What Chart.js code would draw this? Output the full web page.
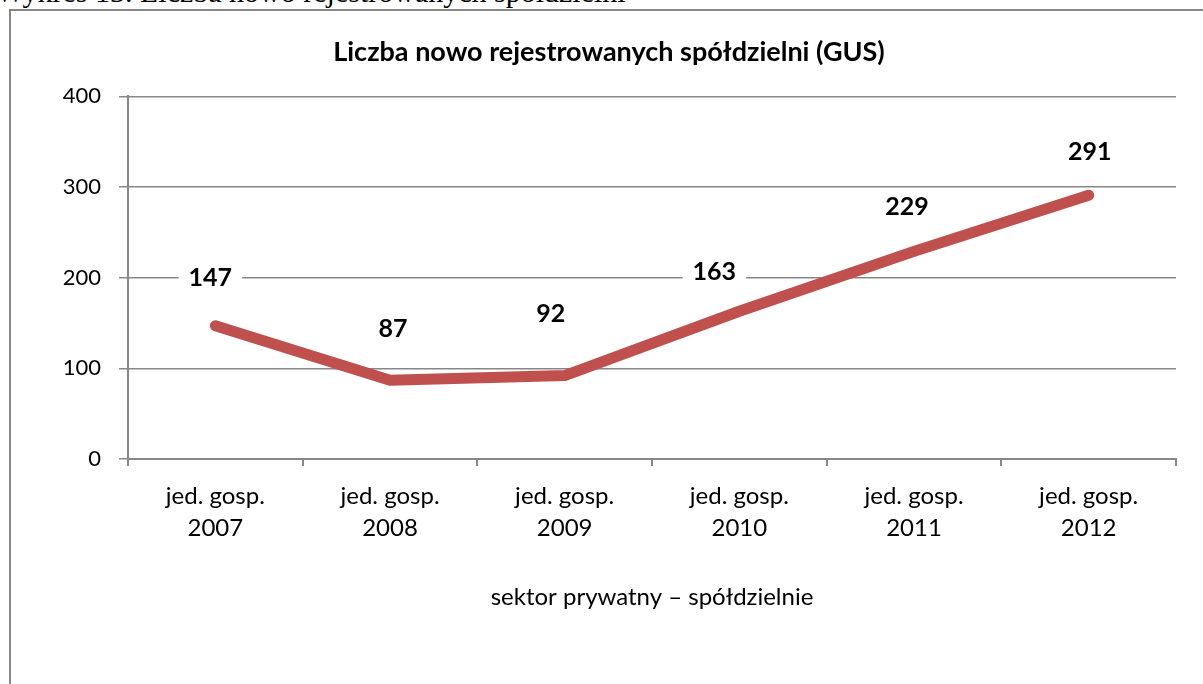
<!DOCTYPE html>
<html lang="pl">
<head>
<meta charset="utf-8">
<title>Liczba nowo rejestrowanych spółdzielni (GUS)</title>
<script src="https://cdn.jsdelivr.net/npm/chart.js@4/dist/chart.umd.min.js"></script>
<style>
	html, body { margin: 0; padding: 0; background: #fff; overflow: hidden; }
	#caption {
		position: absolute; left: -4px; top: -25px;
		font-family: "Liberation Serif", "DejaVu Serif", serif;
		font-size: 30px; color: #000; white-space: nowrap;
	}
	#frame {
		position: absolute; left: 9px; top: 9px; width: 1300px; height: 800px;
		border-left: 2px solid #878787; border-top: 2px solid #878787;
	}
	#wrap { position: absolute; left: 0; top: 0; width: 1203px; height: 684px; }
</style>
</head>
<body>
<div id="caption">Wykres 13. Liczba nowo rejestrowanych spółdzielni</div>
<div id="frame"></div>
<div id="wrap"><canvas id="myChart" width="1203" height="684"></canvas></div>
<script>
const years = ["2007", "2008", "2009", "2010", "2011", "2012"];
const categories = years.map((y) => ["jed. gosp.", y]);
const values = [147, 87, 92, 163, 229, 291];
const yTicks = [0, 100, 200, 300, 400];

// label offsets from their points (hand-placed in the original)
const labelShift = [
	[-5, -48],
	[3, -51],
	[-14, -62],
	[-25, -39],
	[-7, -44],
	[1, -43],
];

const fontFamily = "Lato, 'Open Sans', sans-serif";

// draws the value labels with a white box behind, like Excel does
const valueLabels = {
	id: "valueLabels",
	afterDatasetsDraw(chart) {
		const ctx = chart.ctx;
		const meta = chart.getDatasetMeta(0);
		ctx.save();
		ctx.font = "bold 25px " + fontFamily;
		ctx.textAlign = "center";
		ctx.textBaseline = "middle";
		meta.data.forEach((pt, i) => {
			const text = String(values[i]);
			const x = pt.x + labelShift[i][0];
			const y = pt.y + labelShift[i][1];
			const w = ctx.measureText(text).width + 20;
			ctx.fillStyle = "#fff";
			ctx.fillRect(x - w / 2, y - 15, w, 30);
			ctx.fillStyle = "#000";
			ctx.fillText(text, x, y);
		});
		ctx.restore();
	},
};

var ctx = document.getElementById("myChart").getContext("2d");
var chartCanvas = new Chart(ctx, {
	type: "line",
	data: {
		labels: categories,
		datasets: [
			{
				data: values,
				borderColor: "#C0504D",
				borderWidth: 11,
				borderCapStyle: "round",
				borderJoinStyle: "round",
				pointRadius: 0,
				tension: 0,
			},
		],
	},
	options: {
		responsive: false,
		animation: false,
		layout: { padding: { left: 42, right: 27, top: 0, bottom: 0 } },
		plugins: {
			legend: { display: false },
			tooltip: { enabled: false },
			title: {
				display: true,
				text: "Liczba nowo rejestrowanych spółdzielni (GUS)",
				color: "#000",
				font: { family: fontFamily, size: 27, weight: "bold", lineHeight: 1.2 },
				padding: { top: 36, bottom: 28 },
			},
		},
		scales: {
			x: {
				offset: true,
				grid: {
					display: true,
					drawOnChartArea: false,
					offset: true,
					color: "#878787",
					lineWidth: 2,
					tickLength: 7,
				},
				border: { color: "#878787", width: 2 },
				ticks: {
					color: "#000",
					font: { family: fontFamily, size: 24, lineHeight: 1.33 },
					padding: 14,
					maxRotation: 0,
				},
				title: {
					display: true,
					text: "sektor prywatny – spółdzielnie",
					color: "#000",
					font: { family: fontFamily, size: 24, lineHeight: 1.2 },
					padding: { top: 0, bottom: 72 },
				},
				afterFit(scale) {
					scale.height = 225;
				},
			},
			y: {
				min: 0,
				max: 400,
				afterBuildTicks(scale) {
					scale.ticks = yTicks.map((v) => ({ value: v }));
				},
				grid: { color: "#878787", lineWidth: 1.5, tickLength: 9 },
				border: { color: "#878787", width: 2 },
				ticks: {
					color: "#000",
					font: { family: fontFamily, size: 22 },
					padding: 18,
				},
				afterFit(scale) {
					scale.width = 86;
				},
			},
		},
	},
	plugins: [valueLabels],
});
</script>
</body>
</html>
